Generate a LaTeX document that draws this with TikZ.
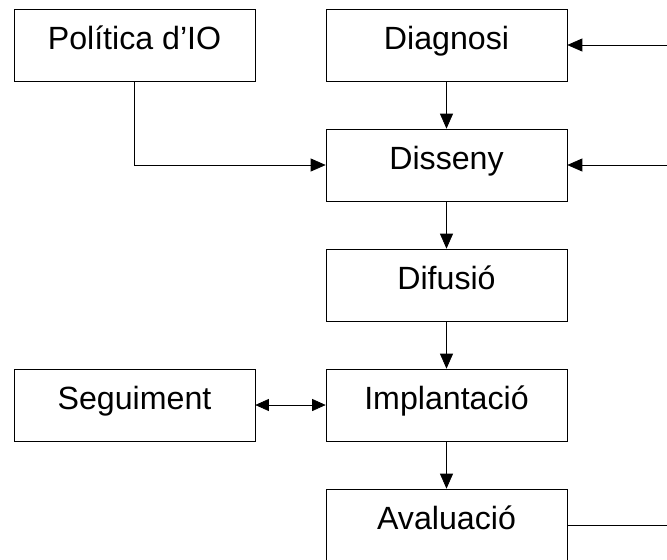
\documentclass[tikz,border=0pt]{standalone}
\usepackage{fontspec}
\setmainfont{Liberation Sans}
\usepackage{tikz}
\usetikzlibrary{arrows.meta,positioning}
\tikzset{
    -{Triangle[length=0.3cm,width=0.26cm]},auto,line width=1.3pt,
    stage/.style ={rectangle, draw, minimum width = 4.82cm, minimum height = 1.44cm,
                   inner sep=0pt, text height=0.72em, text depth=0.25em,
                   font=\fontsize{18.3}{22}\selectfont},
    twoway/.style={{Triangle[length=0.27cm,width=0.24cm]}-{Triangle[length=0.27cm,width=0.24cm]}}
}
\begin{document}
\begin{tikzpicture}[x=0.02cm,y=-0.02cm]
    \useasboundingbox (0,0) rectangle (667,559);
    \node[stage] (pol) at (134.5,45) {Política d’IO};
     \node[stage] (diag) at (446.5,45) {Diagnosi};
      \node[stage] (diss) at (446.5,165) {Disseny};
      \node[stage] (dif) at (446.5,285) {Difusió};
     \node[stage] (seg) at (134.5,405) {Seguiment};
      \node[stage] (impl) at (446.5,405) {Implantació};
       \node[stage] (aval) at (446.5,525) {Avaluació};
      \coordinate (r1) at (667,45);
      \coordinate (r2) at (667,165);
      \coordinate (r3) at (667,525);

       \path (diag) edge (diss);
       \path (diss) edge (dif);
        \path (dif) edge (impl);
        \path (impl) edge (aval);
       \draw (pol) |- (diss);
       \path (r1) edge (diag);
       \path (r2) edge (diss);
       \path[-] (aval) edge (r3);
       \path[twoway] (seg) edge (impl);

\end{tikzpicture}
\end{document}
